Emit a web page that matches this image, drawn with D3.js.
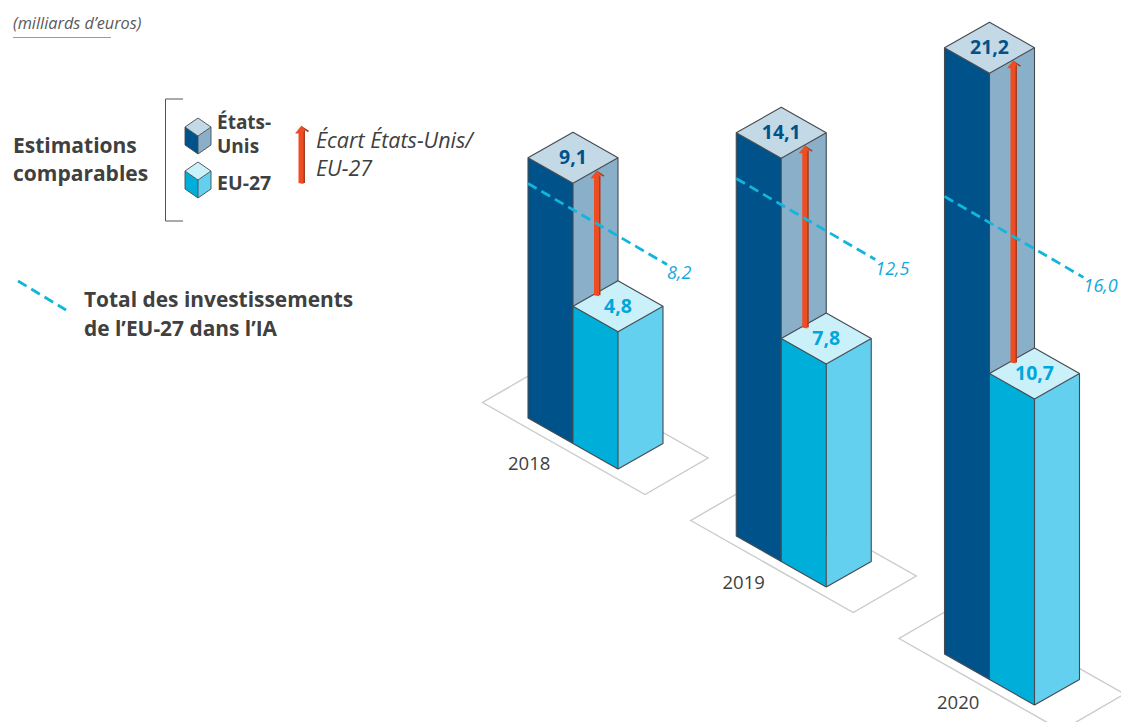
<!DOCTYPE html>
<html lang="fr"><head><meta charset="utf-8">
<script src="https://cdn.jsdelivr.net/npm/d3@7/dist/d3.min.js"></script>
<style>html,body{margin:0;padding:0;background:#fff}svg{display:block}
text{font-family:"Open Sans","Noto Sans",sans-serif}</style></head><body>
<svg id="c" width="1121" height="722"></svg>
<script>
const years = ["2018","2019","2020"];
const usValues = [9.1,14.1,21.2];
const euValues = [4.8,7.8,10.7];
const totalValues = [8.2,12.5,16.0];
const usLabels = ["9,1","14,1","21,2"];
const euLabels = ["4,8","7,8","10,7"];
const totalLabels = ["8,2","12,5","16,0"];

const svg = d3.select("#c");
const TXT="#404040", C={usF:"#00538A",usS:"#8AAFC9",usT:"#C4D9E6",euF:"#00AFD9",euS:"#63D0F0",euT:"#CAF0FA",edge:"#454A50",or:"#EE4D23",orD:"#A23E22",dash:"#12B5DC",floor:"#C9CACA"};
const baseX = d3.scalePoint().domain(years).range([618,1034.5]);
const baseY = d3.scalePoint().domain(years).range([469,705]);
const yearX = d3.scalePoint().domain(years).range([508,937]);
const yearY = d3.scalePoint().domain(years).range([470,708.5]);
const h = d3.scaleLinear().domain([0,1]).range([0,28.6]);
const HW=45, HD=25.5;
const pts = a => a.map(p=>p.join(",")).join(" ");
function box(g,fx,fy,H,f,s,t){
  const topY=fy-H;
  g.append("polygon").attr("points",pts([[fx-HW,fy-HD],[fx,fy],[fx,topY],[fx-HW,topY-HD]])).attr("fill",f);
  g.append("polygon").attr("points",pts([[fx,fy],[fx+HW,fy-HD],[fx+HW,topY-HD],[fx,topY]])).attr("fill",s);
  g.append("polygon").attr("points",pts([[fx-HW,topY-HD],[fx,topY],[fx+HW,topY-HD],[fx,topY-2*HD]])).attr("fill",t);
  g.selectAll(null).data([[[fx-HW,topY-HD],[fx-HW,fy-HD],[fx,fy],[fx+HW,fy-HD],[fx+HW,topY-HD],[fx,topY-2*HD],[fx-HW,topY-HD],[fx,topY],[fx+HW,topY-HD]],[[fx,topY],[fx,fy]]])
   .enter().append("polyline").attr("points",pts).attr("fill","none").attr("stroke",C.edge).attr("stroke-width",1.1).attr("stroke-linejoin","round");
}
function arrow(g,x,y0,y1){
  g.append("rect").attr("x",x+1.5).attr("y",y1+3).attr("width",2).attr("height",y0-y1-3).attr("fill",C.orD);
  g.append("polyline").attr("points",pts([[x,y1],[x+7,y1+4.5]])).attr("stroke",C.orD).attr("stroke-width",1.5).attr("fill","none");
  g.append("polygon").attr("points",pts([[x-3,y0],[x+2,y0+1],[x+2,y1+5],[x+3.5,y1+3],[x,y1-1.5],[x-6.5,y1+6.5],[x-3,y1+6.5]])).attr("fill",C.or);
}
years.forEach((y,i)=>{
  const fx=baseX(y), fy=baseY(y), g=svg.append("g");
  g.append("polygon").attr("points",pts([[fx-135.5,fy-66.5],[fx+27,fy+25.5],[fx+90,fy-11],[fx-72.5,fy-103]])).attr("fill","none").attr("stroke",C.floor).attr("stroke-width",1.4);
  const ufx=fx-HW, ufy=fy-HD;
  box(g,ufx,ufy,h(usValues[i]),C.usF,C.usS,C.usT);
  box(g,fx,fy,h(euValues[i]),C.euF,C.euS,C.euT);
  const euTop=fy-h(euValues[i])-HD, usTop=ufy-h(usValues[i])-HD;
  arrow(g,fx-21,euTop-11,usTop+14);
  const lx=ufx-HW, ly=ufy-HD-h(totalValues[i]);
  g.append("line").attr("x1",lx).attr("y1",ly).attr("x2",lx+139).attr("y2",ly+81).attr("stroke",C.dash).attr("stroke-width",2.8).attr("stroke-dasharray","10 5.5");
  g.append("text").attr("x",lx+139).attr("y",ly+96).attr("font-size",18).attr("font-style","italic").attr("fill","#12A9DC").text(totalLabels[i]);
  g.append("text").attr("x",ufx).attr("y",usTop+6.5).attr("text-anchor","middle").attr("font-size",19.5).attr("font-weight",700).attr("fill",C.usF).text(usLabels[i]);
  g.append("text").attr("x",fx).attr("y",euTop+7).attr("text-anchor","middle").attr("font-size",19.5).attr("font-weight",700).attr("fill","#00A6DC").text(euLabels[i]);
  g.append("text").attr("x",yearX(y)).attr("y",yearY(y)).attr("font-size",18.5).attr("fill",TXT).text(y);
});
// legend
const L=svg.append("g");
const T=(x,y,s,size,o={})=>L.append("text").attr("x",x).attr("y",y).attr("font-size",size).attr("font-weight",o.b?700:400).attr("font-style",o.i?"italic":"normal").attr("fill",o.c||TXT).text(s);
T(13,29,"(milliards d’euros)",16.3,{i:1,c:"#5a5a5a"});
L.append("line").attr("x1",13).attr("x2",111).attr("y1",37.5).attr("y2",37.5).attr("stroke","#9a9a9a").attr("stroke-width",1.2);
T(13,153,"Estimations",21,{b:1});T(13,181,"comparables",21,{b:1});
L.append("polyline").attr("points",pts([[183,99],[165.5,99],[165.5,221],[183,221]])).attr("fill","none").attr("stroke","#555").attr("stroke-width",1);
function cube(fx,fy,H,f,s,t){
  const HWl=13,HDl=9,topY=fy-H;
  L.append("polygon").attr("points",pts([[fx-HWl,fy-HDl],[fx,fy],[fx,topY],[fx-HWl,topY-HDl]])).attr("fill",f);
  L.append("polygon").attr("points",pts([[fx,fy],[fx+HWl,fy-HDl],[fx+HWl,topY-HDl],[fx,topY]])).attr("fill",s);
  L.append("polygon").attr("points",pts([[fx-HWl,topY-HDl],[fx,topY],[fx+HWl,topY-HDl],[fx,topY-2*HDl]])).attr("fill",t);
  L.append("polyline").attr("points",pts([[fx-HWl,topY-HDl],[fx-HWl,fy-HDl],[fx,fy],[fx+HWl,fy-HDl],[fx+HWl,topY-HDl],[fx,topY-2*HDl],[fx-HWl,topY-HDl],[fx,topY],[fx+HWl,topY-HDl]])).attr("fill","none").attr("stroke",C.edge).attr("stroke-width",.9);
  L.append("line").attr("x1",fx).attr("x2",fx).attr("y1",topY).attr("y2",fy).attr("stroke",C.edge).attr("stroke-width",.9);
}
cube(198,154,18,C.usF,C.usS,C.usT);
cube(198,198,18,C.euF,C.euS,C.euT);
T(217,129,"États-",19,{b:1});T(217,153,"Unis",19,{b:1});T(217,190,"EU-27",19.5,{b:1});
arrow(L,301.5,183,127);
T(316,148,"Écart États-Unis/",21.5,{i:1});T(316,176,"EU-27",21.5,{i:1});
L.append("line").attr("x1",18).attr("y1",281).attr("x2",66).attr("y2",310).attr("stroke",C.dash).attr("stroke-width",2.8).attr("stroke-dasharray","10 5.5");
T(84,307,"Total des investissements",20.9,{b:1});T(84,336,"de l’EU-27 dans l’IA",20.9,{b:1});
</script></body></html>
